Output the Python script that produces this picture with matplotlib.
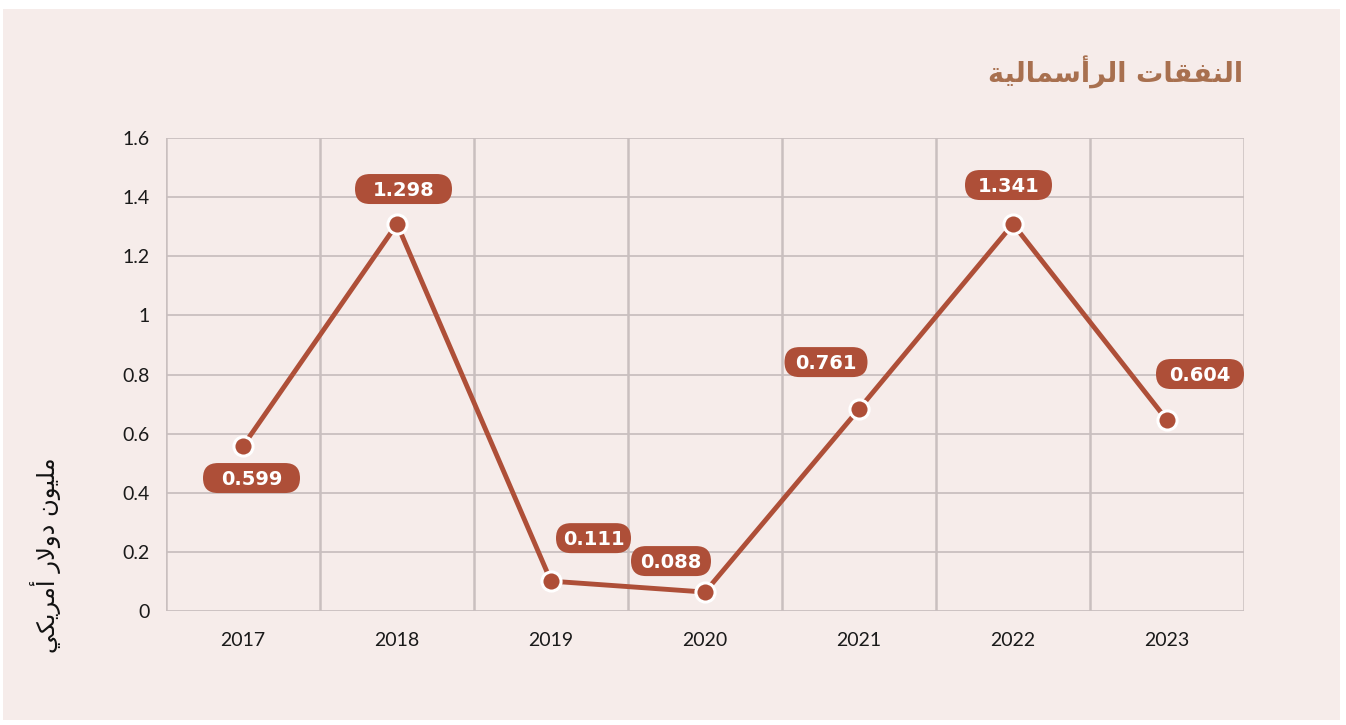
import numpy as np
import matplotlib.pyplot as plt
from matplotlib.patches import Rectangle, FancyBboxPatch
from matplotlib.transforms import ScaledTranslation

years = ['2017', '2018', '2019', '2020', '2021', '2022', '2023']
values = [0.558, 1.309, 0.101, 0.064, 0.683, 1.309, 0.646]
value_labels = ['0.599', '1.298', '0.111', '0.088', '0.761', '1.341', '0.604']
yticks = [0, 0.2, 0.4, 0.6, 0.8, 1.0, 1.2, 1.4, 1.6]
ytick_labels = ['0', '0.2', '0.4', '0.6', '0.8', '1', '1.2', '1.4', '1.6']

# arabic text, pre-shaped (presentation forms) and in visual order
def visual(chars):
    return ''.join(reversed(chars))

w1 = '\uFE8D\uFEDF\uFEE8\uFED4\uFED8\uFE8E\uFE95'              # النفقات
w2 = '\uFE8D\uFEDF\uFEAE\uFE83\uFEB3\uFEE4\uFE8E\uFEDF\uFEF4\uFE94'  # الرأسمالية
title_txt = visual(w1 + ' ' + w2)
y1 = '\uFEE3\uFEE0\uFEF4\uFEEE\uFEE5'          # مليون
y2 = '\uFEA9\uFEED\uFEFB\uFEAD'                # دولار
y3 = '\uFE83\uFEE3\uFEAE\uFEF3\uFEDC\uFEF2'    # أمريكي
ylabel_txt = visual(y1 + ' ' + y2 + ' ' + y3)

bg = '#f6ecea'
red = '#ae4f38'
grid_c = '#c9bfbf'

fig = plt.figure(figsize=(13.46, 7.25), dpi=100)
fig.patch.set_facecolor('white')
fig.patches.append(Rectangle((3/1346, 5/725), 1337/1346, 711/725, transform=fig.transFigure,
                             facecolor=bg, edgecolor='none', zorder=-10))

ax = fig.add_axes([166/1346, 1 - 611/725, (1244-166)/1346, (611-138)/725])
ax.set_facecolor('none')
x = np.arange(len(years))
ax.set_xlim(-0.5, len(years) - 0.5)
ax.set_ylim(0, 1.6)

for yv in yticks:
    ax.axhline(yv, color=grid_c, lw=1.3, zorder=1)
for xv in np.arange(-0.5, len(years), 1.0):
    ax.axvline(xv, color=grid_c, lw=1.8, zorder=1)

ax.plot(x, values, color=red, lw=3.5, zorder=3, solid_capstyle='round')
ax.scatter(x, values, s=190, color=red, edgecolor='white', linewidth=2.2, zorder=4)

# label box placement, in pixels relative to the point (dx, dy up), and box widths
offsets = [(8.5, -32), (6.5, 35), (42.5, 43), (-34, 31), (-33, 47), (-4.5, 39), (33, 46)]
box_w = [97, 97, 75, 80, 83, 87, 88]
box_h = 30
for xi, v, lab, (dx, dy), bw in zip(x, values, value_labels, offsets, box_w):
    tr = fig.dpi_scale_trans + ScaledTranslation(xi, v, ax.transData)
    cx, cy = dx / 100, dy / 100
    w, h = bw / 100, box_h / 100
    p = FancyBboxPatch((cx - w/2, cy - h/2), w, h, boxstyle='round,pad=0,rounding_size=%f' % (h/2),
                       fc=red, ec='none', transform=tr, zorder=5, clip_on=False)
    ax.add_patch(p)
    ax.text(cx, cy - 0.01, lab, transform=tr, ha='center', va='center', fontsize=14,
            fontweight='bold', family=['DejaVu Sans'], color='white', zorder=6)

ax.set_xticks(x)
ax.set_xticklabels(years, fontsize=14, family=['Lato', 'DejaVu Sans'], color='#1a1a1a')
ax.set_yticks(yticks)
ax.set_yticklabels(ytick_labels, fontsize=14, family=['Lato', 'DejaVu Sans'], color='#1a1a1a')
ax.tick_params(length=0, pad=15)
ax.tick_params(axis='y', pad=12)
for s in ax.spines.values():
    s.set_visible(False)

fig.text(1243/1346, 1 - 72/725, title_txt, ha='right', va='center', fontsize=19.5,
         fontweight='bold', color='#a8704f', family=['DejaVu Sans'])
fig.text(46/1346, 1 - 555/725, ylabel_txt, ha='center', va='center', rotation=90,
         fontsize=17.5, color='#111111', family=['DejaVu Sans'])

fig.savefig('out.png', dpi=100, facecolor=fig.get_facecolor())
